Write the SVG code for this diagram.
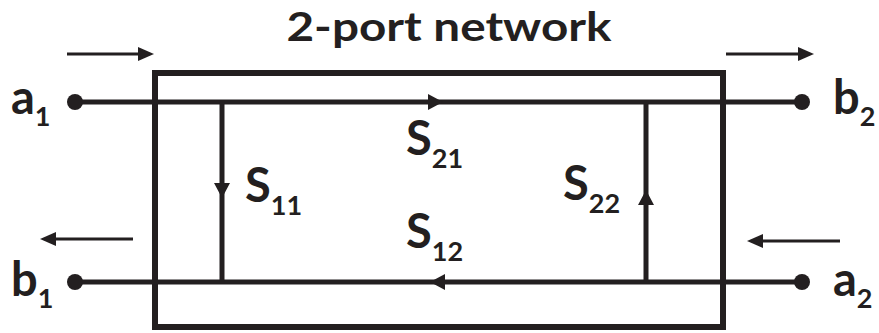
<svg xmlns="http://www.w3.org/2000/svg" width="879" height="333" viewBox="0 0 879 333">
<style>
.t{font-family:Lato,"Open Sans","Liberation Sans",sans-serif;font-weight:bold;fill:#231f20}
.big{font-size:47px}
.sub{font-size:27px}
.w{stroke:#231f20;stroke-width:5;fill:none}
.a{stroke:#231f20;stroke-width:3;fill:none}
.h{fill:#231f20}
</style>
<rect width="879" height="333" fill="#fff"/>
<g id="box"><rect x="155" y="73" width="568" height="254" fill="none" stroke="#231f20" stroke-width="6"/></g>
<text class="t" x="449" y="41" text-anchor="middle" font-size="40" textLength="325" lengthAdjust="spacingAndGlyphs">2-port network</text>
<g id="connectors">
<line class="w" x1="75" y1="102" x2="802" y2="102"/>
<line class="w" x1="75" y1="282" x2="802" y2="282"/>
<line class="w" x1="222" y1="102" x2="222" y2="282"/>
<line class="w" x1="646" y1="102" x2="646" y2="282"/>
<polygon class="h" points="428,94 443,102 428,110"/>
<polygon class="h" points="445,274 430,282 445,290"/>
<polygon class="h" points="214,183 222,198 230,183"/>
<polygon class="h" points="638,205 646,190 654,205"/>
<line class="a" x1="67" y1="54" x2="140" y2="54"/><polygon class="h" points="138,47 154,54 138,61"/>
<line class="a" x1="726" y1="54" x2="800" y2="54"/><polygon class="h" points="798,47 814,54 798,61"/>
<line class="a" x1="133" y1="239" x2="55" y2="239"/><polygon class="h" points="56,232 40,239 56,246"/>
<line class="a" x1="840" y1="241" x2="762" y2="241"/><polygon class="h" points="763,234 747,241 763,248"/>
</g>
<g id="a1"><circle class="h" cx="75" cy="102" r="8"/><text class="t" x="11" y="114"><tspan class="big">a</tspan><tspan class="sub" dy="12">1</tspan></text></g>
<g id="b1"><circle class="h" cx="75" cy="282" r="8"/><text class="t" x="11" y="296"><tspan class="big">b</tspan><tspan class="sub" dy="12">1</tspan></text></g>
<g id="b2"><circle class="h" cx="802" cy="102" r="8"/><text class="t" x="833" y="114"><tspan class="big">b</tspan><tspan class="sub" dy="12">2</tspan></text></g>
<g id="a2"><circle class="h" cx="802" cy="282" r="8"/><text class="t" x="833" y="296"><tspan class="big">a</tspan><tspan class="sub" dy="12">2</tspan></text></g>
<g id="S21"><text class="t" x="406" y="155"><tspan class="big">S</tspan><tspan class="sub" dy="13">21</tspan></text></g>
<g id="S12"><text class="t" x="406" y="248"><tspan class="big">S</tspan><tspan class="sub" dy="13">12</tspan></text></g>
<g id="S11"><text class="t" x="245" y="202"><tspan class="big">S</tspan><tspan class="sub" dy="13">11</tspan></text></g>
<g id="S22"><text class="t" x="563" y="200"><tspan class="big">S</tspan><tspan class="sub" dy="13">22</tspan></text></g>
</svg>
